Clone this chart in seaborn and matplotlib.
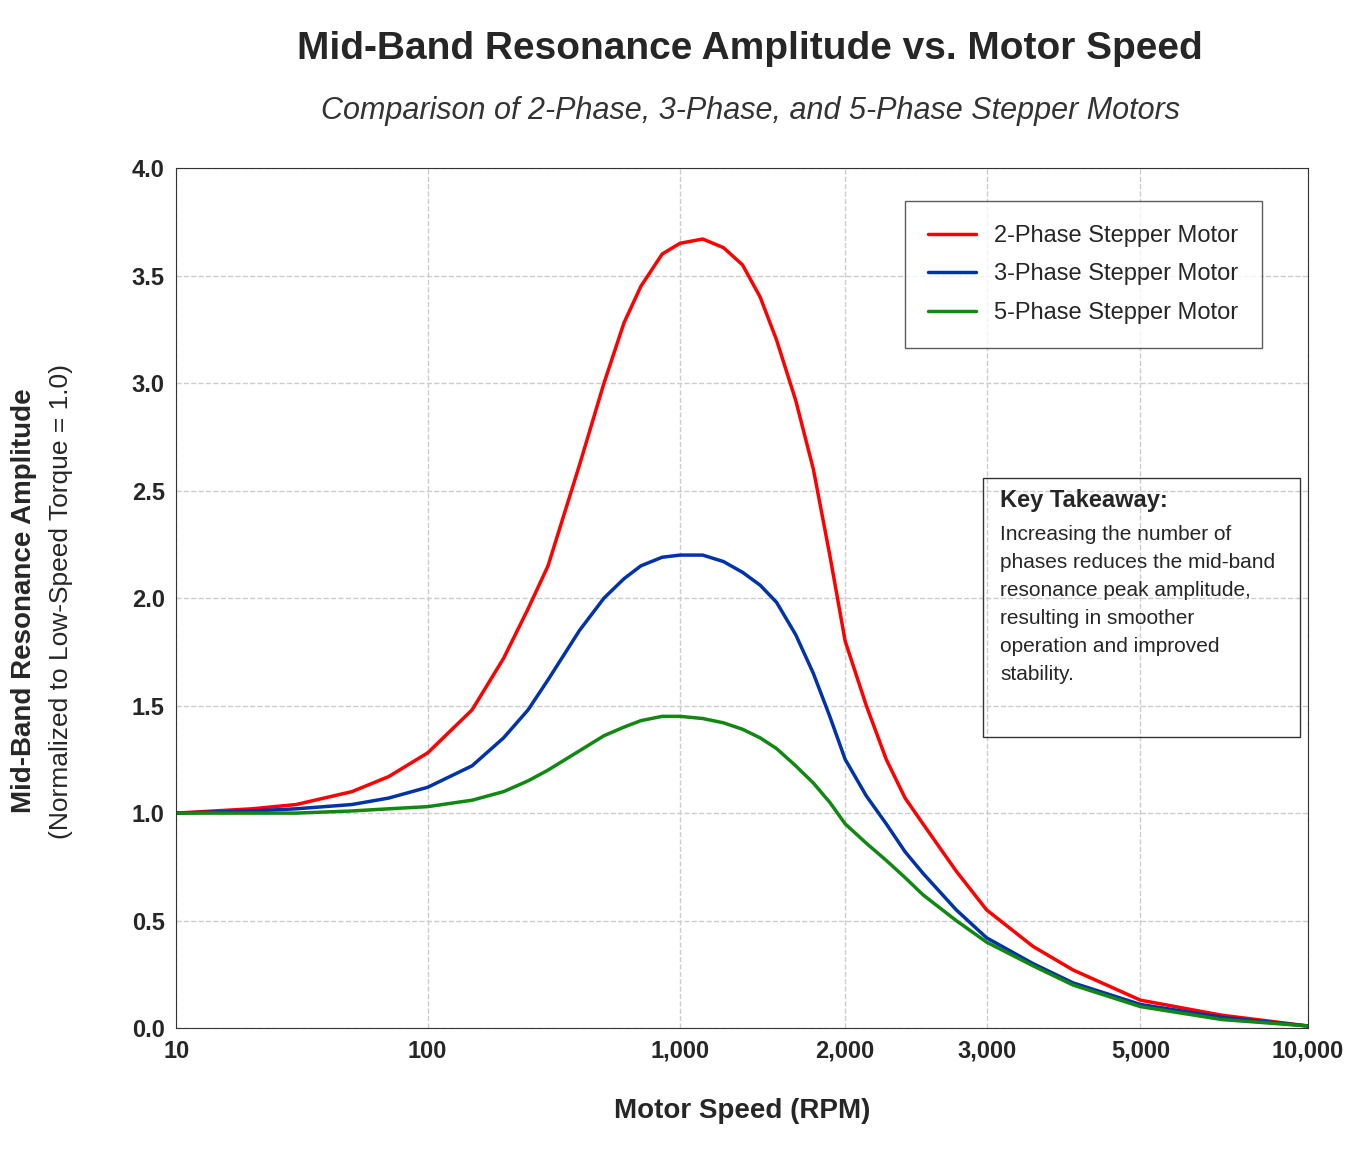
import numpy as np
import pandas as pd
import matplotlib
matplotlib.use('Agg')
import matplotlib.pyplot as plt
import seaborn as sns

# Speed samples (RPM) and normalized resonance amplitude per motor type
rpm = [10, 20, 30, 50, 70, 100, 150, 200, 250, 300, 400, 500, 600, 700, 850, 1000, 1100, 1200, 1300,
       1400, 1500, 1625, 1750, 1875, 2000, 2125, 2250, 2375, 2500, 2750, 3000, 3500, 4000, 5000,
       7000, 10000]
two_phase = [1.0, 1.02, 1.04, 1.1, 1.17, 1.28, 1.48, 1.72, 1.95, 2.15, 2.62, 3.0, 3.28, 3.45, 3.6,
             3.65, 3.67, 3.63, 3.55, 3.4, 3.2, 2.92, 2.6, 2.2, 1.8, 1.5, 1.25, 1.07, 0.95, 0.73,
             0.55, 0.38, 0.27, 0.13, 0.06, 0.01]
three_phase = [1.0, 1.01, 1.02, 1.04, 1.07, 1.12, 1.22, 1.35, 1.48, 1.62, 1.85, 2.0, 2.09, 2.15,
               2.19, 2.2, 2.2, 2.17, 2.12, 2.06, 1.98, 1.83, 1.65, 1.45, 1.25, 1.08, 0.95, 0.82,
               0.72, 0.55, 0.42, 0.3, 0.21, 0.11, 0.05, 0.01]
five_phase = [1.0, 1.0, 1.0, 1.01, 1.02, 1.03, 1.06, 1.1, 1.15, 1.2, 1.29, 1.36, 1.4, 1.43, 1.45,
              1.45, 1.44, 1.42, 1.39, 1.35, 1.3, 1.22, 1.14, 1.05, 0.95, 0.86, 0.78, 0.7, 0.62,
              0.5, 0.4, 0.29, 0.2, 0.1, 0.04, 0.01]
series = ['2-Phase Stepper Motor', '3-Phase Stepper Motor', '5-Phase Stepper Motor']
colors = ['#ff0000', '#0033aa', '#118811']

tick_vals = [10, 100, 1000, 2000, 3000, 5000, 10000]
tick_labels = ['10', '100', '1,000', '2,000', '3,000', '5,000', '10,000']
tick_pos = [0, 0.222, 0.445, 0.591, 0.716, 0.852, 1.0]

df = pd.DataFrame({'rpm': rpm * 3,
                   'amp': two_phase + three_phase + five_phase,
                   'motor': sum([[s] * len(rpm) for s in series], [])})

sns.set_style('white')
plt.rcParams['font.family'] = ['Liberation Sans', 'DejaVu Sans']

lv = np.log10(tick_vals)
fwd = lambda x: np.interp(np.log10(np.clip(x, 1e-9, None)), lv, tick_pos)
inv = lambda p: 10 ** np.interp(p, tick_pos, lv)

fig = plt.figure(figsize=(13.47, 11.67), dpi=100)
ax = fig.add_axes([0.131, 0.119, 0.84, 0.737])
ax.set_xscale('function', functions=(fwd, inv))
sns.lineplot(data=df, x='rpm', y='amp', hue='motor', palette=colors, linewidth=2.5, ax=ax)
ax.set_xlim(10, 10000)
ax.set_ylim(0, 4)
ax.set_xticks(tick_vals)
ax.set_xticklabels(tick_labels)
ax.set_yticks(np.arange(0, 4.01, 0.5))
ax.set_yticklabels([f'{v:.1f}' for v in np.arange(0, 4.01, 0.5)])
ax.tick_params(labelsize=17, length=5)
for t in ax.get_xticklabels() + ax.get_yticklabels():
    t.set_fontweight('bold')
ax.grid(True, linestyle='--', color='#cccccc', linewidth=1)
for s in ax.spines.values():
    s.set_color('#333333')

ax.set_xlabel('Motor Speed (RPM)', fontsize=20, fontweight='bold', labelpad=25)
ax.set_ylabel('')
fig.text(0.018, 0.485, 'Mid-Band Resonance Amplitude', rotation=90, fontsize=20,
         fontweight='bold', ha='center', va='center')
fig.text(0.045, 0.485, '(Normalized to Low-Speed Torque = 1.0)', rotation=90, fontsize=19,
         ha='center', va='center')

fig.text(0.557, 0.958, 'Mid-Band Resonance Amplitude vs. Motor Speed', fontsize=28,
         fontweight='bold', ha='center', va='center')
fig.text(0.557, 0.905, 'Comparison of 2-Phase, 3-Phase, and 5-Phase Stepper Motors',
         fontsize=22, style='italic', color='#333333', ha='center', va='center')

leg = ax.legend(loc='upper right', bbox_to_anchor=(0.97, 0.975), fontsize=17, frameon=True,
                fancybox=False, edgecolor='#333333', borderpad=1.0, labelspacing=0.7,
                handlelength=2.0)
leg.get_frame().set_linewidth(1)

ax.text(0.728, 0.6, 'Key Takeaway:', transform=ax.transAxes, fontsize=17,
        fontweight='bold', va='bottom')
ax.text(0.728, 0.585,
        'Increasing the number of\nphases reduces the mid-band\nresonance peak amplitude,\n'
        'resulting in smoother\noperation and improved\nstability.',
        transform=ax.transAxes, fontsize=15, va='top', linespacing=1.6)
ax.add_patch(plt.Rectangle((0.713, 0.338), 0.28, 0.302, transform=ax.transAxes,
                           fill=False, edgecolor='#333333', linewidth=1))

fig.savefig('out.png', dpi=100)
